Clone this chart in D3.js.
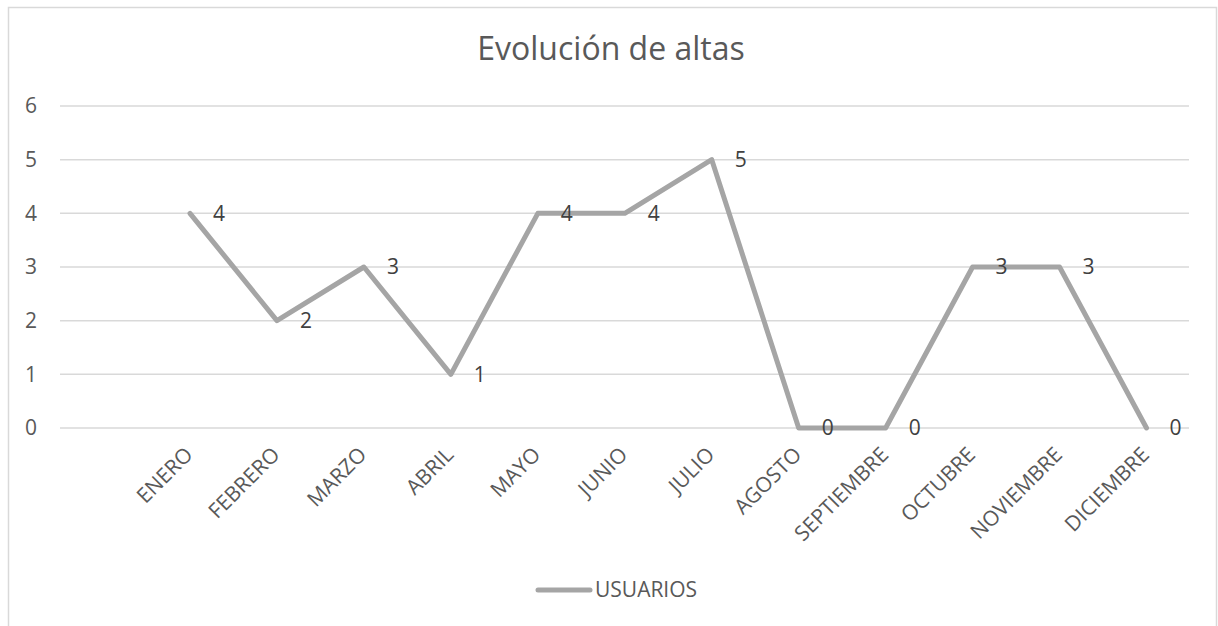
<!DOCTYPE html>
<html>
<head>
<meta charset="utf-8">
<script src="https://cdn.jsdelivr.net/npm/d3@7"></script>
<style>
  body { margin: 0; background: #fff; }
  text { font-family: "Open Sans", sans-serif; }
</style>
</head>
<body>
<div id="chart"></div>
<script>
// datos del grafico
const meses = ['ENERO', 'FEBRERO', 'MARZO', 'ABRIL', 'MAYO', 'JUNIO', 'JULIO',
  'AGOSTO', 'SEPTIEMBRE', 'OCTUBRE', 'NOVIEMBRE', 'DICIEMBRE']
const usuarios = [4, 2, 3, 1, 4, 4, 5, 0, 0, 3, 3, 0]
const yTicks = [0, 1, 2, 3, 4, 5, 6]
const titulo = 'Evolución de altas'
const serie = 'USUARIOS'

const W = 1218, H = 626
const svg = d3.select('#chart').append('svg')
  .attr('width', W)
  .attr('height', H)

// marco
svg.append('rect')
  .attr('x', 8.5).attr('y', 7.5)
  .attr('width', 1208).attr('height', 640)
  .attr('fill', 'none')
  .attr('stroke', '#d9d9d9')
  .attr('stroke-width', 1.5)

const x = d3.scalePoint().domain(meses).range([146.5, 1190]).padding(0.5)
const y = d3.scaleLinear().domain([0, 6]).range([428, 106])

svg.append('text')
  .attr('x', 611).attr('y', 60)
  .attr('text-anchor', 'middle')
  .attr('font-size', 32)
  .attr('fill', '#595959')
  .text(titulo)

// lineas de la cuadricula
svg.append('g').selectAll('line')
  .data(yTicks).join('line')
  .attr('x1', 60).attr('x2', 1189)
  .attr('y1', d => y(d)).attr('y2', d => y(d))
  .attr('stroke', '#d9d9d9')
  .attr('stroke-width', 1.5)

svg.append('g').selectAll('text')
  .data(yTicks).join('text')
  .attr('x', 37).attr('y', d => y(d))
  .attr('dy', '0.35em')
  .attr('text-anchor', 'end')
  .attr('font-size', 21)
  .attr('fill', '#595959')
  .text(d => d)

// etiquetas del eje x
svg.append('g').selectAll('text')
  .data(meses).join('text')
  .attr('transform', d => `translate(${x(d) + 4},456) rotate(-45)`)
  .attr('text-anchor', 'end')
  .attr('font-size', 21)
  .attr('fill', '#595959')
  .text(d => d)

const line = d3.line()
  .x((d, i) => x(meses[i]))
  .y(d => y(d))

svg.append('path')
  .datum(usuarios)
  .attr('d', line)
  .attr('fill', 'none')
  .attr('stroke', '#a5a5a5')
  .attr('stroke-width', 5)
  .attr('stroke-linejoin', 'round')
  .attr('stroke-linecap', 'round')

// etiquetas de datos
svg.append('g').selectAll('text')
  .data(usuarios).join('text')
  .attr('x', (d, i) => x(meses[i]) + 23)
  .attr('y', d => y(d))
  .attr('dy', '0.35em')
  .attr('font-size', 21)
  .attr('fill', '#404040')
  .text(d => d)

// leyenda
svg.append('line')
  .attr('x1', 538).attr('x2', 590)
  .attr('y1', 590).attr('y2', 590)
  .attr('stroke', '#a5a5a5')
  .attr('stroke-width', 5)
  .attr('stroke-linecap', 'round')
svg.append('text')
  .attr('x', 595).attr('y', 590)
  .attr('dy', '0.35em')
  .attr('font-size', 21)
  .attr('fill', '#595959')
  .text(serie)
</script>
</body>
</html>
